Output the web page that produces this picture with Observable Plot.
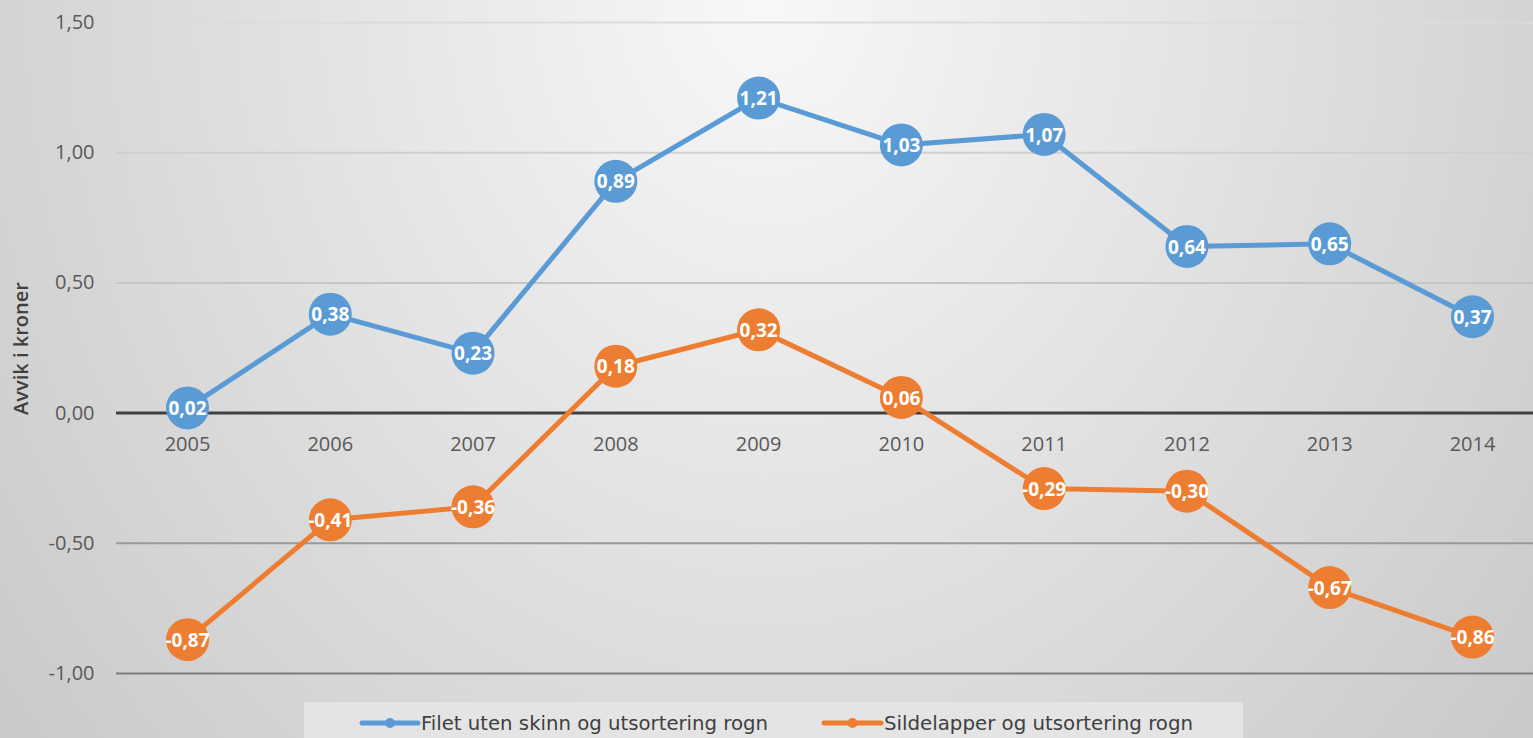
<!DOCTYPE html>
<html>
<head>
<meta charset="utf-8">
<script src="https://cdn.jsdelivr.net/npm/d3@7"></script>
<script src="https://cdn.jsdelivr.net/npm/@observablehq/plot@0.6"></script>
<style>
  html, body { margin: 0; padding: 0; }
  body {
    width: 1533px; height: 738px; overflow: hidden;
    background: radial-gradient(ellipse 1100px 1300px at 766px 0px, #f8f8f8 0%, #c4c4c4 100%);
    font-family: "Open Sans", sans-serif;
  }
  #chart svg { display: block; background: transparent; }
  #legend { margin-left: 304px; width: 939px; height: 36px; background: #e4e4e4; }
  #legend svg { display: block; }
</style>
</head>
<body>
<div id="chart"></div>
<div id="legend"></div>
<script>
const years = [2005, 2006, 2007, 2008, 2009, 2010, 2011, 2012, 2013, 2014];
const fileValues = [0.02, 0.38, 0.23, 0.89, 1.21, 1.03, 1.07, 0.64, 0.65, 0.37];
const sildValues = [-0.87, -0.41, -0.36, 0.18, 0.32, 0.06, -0.29, -0.30, -0.67, -0.86];
const seriesNames = ["Filet uten skinn og utsortering rogn", "Sildelapper og utsortering rogn"];
const seriesColors = ["#5b9bd5", "#ed7d31"];
const yTicks = [-1, -0.5, 0, 0.5, 1, 1.5];
const gridTicks = [-1, -0.5, 0.5, 1, 1.5];
const yLabel = "Avvik i kroner";

const loc = d3.formatLocale({decimal: ",", thousands: " ", grouping: [3], currency: ["", " kr"], minus: "-"});
const fmt = loc.format(".2f");

const blue = years.map((x, i) => ({x, y: fileValues[i], s: seriesNames[0]}));
const orange = years.map((x, i) => ({x, y: sildValues[i], s: seriesNames[1]}));

const chart = Plot.plot({
  width: 1533,
  height: 702,
  marginLeft: 116,
  marginRight: 0,
  marginTop: 0,
  marginBottom: 0,
  style: {background: "transparent", fontFamily: "Open Sans, sans-serif"},
  x: {domain: [2005, 2014], range: [187, 1472], axis: null},
  y: {domain: [-1, 1.5], range: [673, 22], axis: null},
  marks: [
    Plot.ruleY(gridTicks, {stroke: "url(#gridgrad)", strokeWidth: 2}),
    Plot.ruleY([0], {stroke: "#404040", strokeWidth: 3}),
    Plot.axisY({ticks: yTicks, tickSize: 0, tickPadding: 22, tickFormat: fmt, fontSize: 20, fill: "#595959", label: null}),
    Plot.text(years, {x: d => d, y: 0, text: d => String(d), dy: 31, fontSize: 20, fill: "#595959"}),
    Plot.text([yLabel], {frameAnchor: "left", textAnchor: "middle", rotate: -90, dx: -95, dy: -3, fontSize: 20, fontWeight: 600, fill: "#404040"}),
    Plot.line(blue, {x: "x", y: "y", stroke: seriesColors[0], strokeWidth: 5, strokeLinejoin: "round"}),
    Plot.line(orange, {x: "x", y: "y", stroke: seriesColors[1], strokeWidth: 5, strokeLinejoin: "round"}),
    Plot.dot(blue, {x: "x", y: "y", r: 21.5, fill: seriesColors[0], stroke: "none"}),
    Plot.dot(orange, {x: "x", y: "y", r: 21.5, fill: seriesColors[1], stroke: "none"}),
    Plot.text(blue, {x: "x", y: "y", text: d => fmt(d.y), fill: "white", fontSize: 19, fontWeight: 700, dy: 1}),
    Plot.text(orange, {x: "x", y: "y", text: d => fmt(d.y), fill: "white", fontSize: 19, fontWeight: 700, dy: 1})
  ]
});

// gradient for gridlines (darker toward the bottom, as in the reference)
const svg = d3.select(chart);
const defs = svg.insert("defs", ":first-child");
const g = defs.append("linearGradient").attr("id", "gridgrad")
  .attr("gradientUnits", "userSpaceOnUse").attr("x1", 0).attr("x2", 0).attr("y1", 0).attr("y2", 702);
[[0, "#dedede"], [0.22, "#cfcfcf"], [0.4, "#c6c6c6"], [0.77, "#9a9a9a"], [0.96, "#7d7d7d"], [1, "#7a7a7a"]]
  .forEach(([o, c]) => g.append("stop").attr("offset", o).attr("stop-color", c));

document.getElementById("chart").appendChild(chart);

// legend
const lg = d3.select("#legend").append("svg").attr("width", 939).attr("height", 36);
const items = [
  {x0: 58, x1: 114, tx: 117, tw: 347, name: seriesNames[0], color: seriesColors[0]},
  {x0: 520, x1: 577, tx: 580, tw: 309, name: seriesNames[1], color: seriesColors[1]}
];
items.forEach(it => {
  lg.append("line").attr("x1", it.x0).attr("x2", it.x1).attr("y1", 21).attr("y2", 21)
    .attr("stroke", it.color).attr("stroke-width", 5).attr("stroke-linecap", "round");
  lg.append("circle").attr("cx", (it.x0 + it.x1) / 2).attr("cy", 21).attr("r", 5).attr("fill", it.color);
  lg.append("text").attr("x", it.tx).attr("y", 28).attr("font-size", 20)
    .attr("font-family", "Liberation Sans Narrow, DejaVu Sans Condensed, Open Sans, sans-serif")
    .attr("fill", "#404040").attr("textLength", it.tw).attr("lengthAdjust", "spacingAndGlyphs")
    .text(it.name);
});
</script>
</body>
</html>
